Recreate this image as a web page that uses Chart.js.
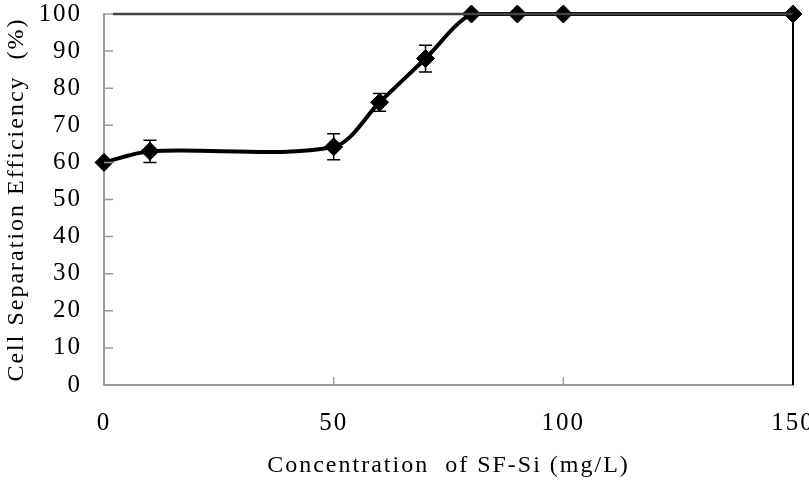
<!DOCTYPE html>
<html>
<head>
<meta charset="utf-8">
<script src="https://cdn.jsdelivr.net/npm/chart.js@4.4.1/dist/chart.umd.min.js"></script>
<style>
  html, body { margin: 0; padding: 0; background: #fff; overflow: hidden; }
  #wrap { width: 809px; height: 484px; }
</style>
</head>
<body>
<div id="wrap"><canvas id="chart" width="809" height="484"></canvas></div>
<script>
// SF-Si dose (mg/L) vs cell separation efficiency (%)
const concentration = [0, 10, 50, 60, 70, 80, 90, 100, 150];
const efficiency = [60, 63, 64.2, 76.2, 88, 100, 100, 100, 100];
const errorBars = [0, 3, 3.5, 2.4, 3.6, 0, 0, 0, 0];
const xTicks = [0, 50, 100, 150];
const yTicks = [0, 10, 20, 30, 40, 50, 60, 70, 80, 90, 100];

const serif = "'Liberation Serif', 'Times New Roman', serif";

// wider letter spacing, canvas resets it on every resize
const spacingPlugin = {
    id: 'spacing',
    beforeLayout(chart) { chart.ctx.letterSpacing = '2px'; },
    beforeDraw(chart) { chart.ctx.letterSpacing = '2px'; }
};

// frame, inward tick marks and error bars
const framePlugin = {
    id: 'frame',
    afterDraw(chart) {
        const ctx = chart.ctx;
        const area = chart.chartArea;
        const x = chart.scales.x;
        const y = chart.scales.y;
        ctx.save();
        ctx.letterSpacing = '0px';

        ctx.strokeStyle = '#9a9a9a';
        ctx.lineWidth = 1.5;
        ctx.beginPath();
        yTicks.forEach(v => {
            if (v === 0) return;
            const py = y.getPixelForValue(v);
            ctx.moveTo(area.left, py);
            ctx.lineTo(area.left + 9, py);
        });
        xTicks.forEach(v => {
            if (v === 0 || v === 150) return;
            const px = x.getPixelForValue(v);
            ctx.moveTo(px, area.bottom);
            ctx.lineTo(px, area.bottom - 8);
        });
        ctx.stroke();

        ctx.strokeStyle = '#444';
        ctx.lineWidth = 2.5;
        ctx.beginPath();
        ctx.moveTo(area.left + 9, area.top);
        ctx.lineTo(area.right, area.top);
        ctx.stroke();

        ctx.strokeStyle = '#000';
        ctx.lineWidth = 2;
        ctx.beginPath();
        ctx.moveTo(area.right, area.top);
        ctx.lineTo(area.right, area.bottom);
        ctx.stroke();

        ctx.strokeStyle = '#000';
        ctx.lineWidth = 1.5;
        ctx.beginPath();
        concentration.forEach((c, i) => {
            const e = errorBars[i];
            if (!e) return;
            const px = x.getPixelForValue(c);
            const top = y.getPixelForValue(efficiency[i] + e);
            const bot = y.getPixelForValue(efficiency[i] - e);
            ctx.moveTo(px, top); ctx.lineTo(px, bot);
            ctx.moveTo(px - 6.5, top); ctx.lineTo(px + 6.5, top);
            ctx.moveTo(px - 6.5, bot); ctx.lineTo(px + 6.5, bot);
        });
        ctx.stroke();
        ctx.restore();
    }
};

Chart.defaults.font.family = serif;
Chart.defaults.color = '#000';

new Chart(document.getElementById('chart'), {
    type: 'scatter',
    data: {
        datasets: [{
            data: concentration.map((c, i) => ({ x: c, y: efficiency[i] })),
            showLine: true,
            borderColor: '#000',
            borderWidth: 4,
            tension: 0.3,
            pointStyle: 'rectRot',
            pointRadius: 9,
            pointBackgroundColor: '#000',
            pointBorderColor: '#000',
            pointBorderWidth: 1,
            clip: false
        }]
    },
    options: {
        responsive: false,
        animation: false,
        devicePixelRatio: 1,
        layout: { padding: { top: 14, right: 16, left: 0, bottom: 0 } },
        plugins: {
            legend: { display: false },
            tooltip: { enabled: false }
        },
        scales: {
            x: {
                type: 'linear',
                min: 0,
                max: 150,
                afterBuildTicks: s => { s.ticks = xTicks.map(v => ({ value: v })); },
                grid: { display: false },
                border: { display: true, color: '#9a9a9a', width: 2 },
                ticks: { font: { size: 25 }, padding: 15, maxRotation: 0 },
                title: {
                    display: true,
                    text: 'Concentration  of SF-Si (mg/L)',
                    font: { size: 24 },
                    padding: { top: 0, bottom: 4 }
                },
                afterFit: s => { s.height = 99; s.paddingLeft = 0; s.paddingRight = 0; }
            },
            y: {
                min: 0,
                max: 100,
                afterBuildTicks: s => { s.ticks = yTicks.map(v => ({ value: v })); },
                grid: { display: false },
                border: { display: true, color: '#9a9a9a', width: 2 },
                ticks: { font: { size: 25 }, padding: 14 },
                title: {
                    display: true,
                    text: 'Cell Separation Efficiency  (%)',
                    font: { size: 24 },
                    padding: { top: 2, bottom: 0 }
                },
                afterFit: s => { s.width = 104; s.paddingTop = 0; s.paddingBottom = 0; }
            }
        }
    },
    plugins: [spacingPlugin, framePlugin]
});
</script>
</body>
</html>
